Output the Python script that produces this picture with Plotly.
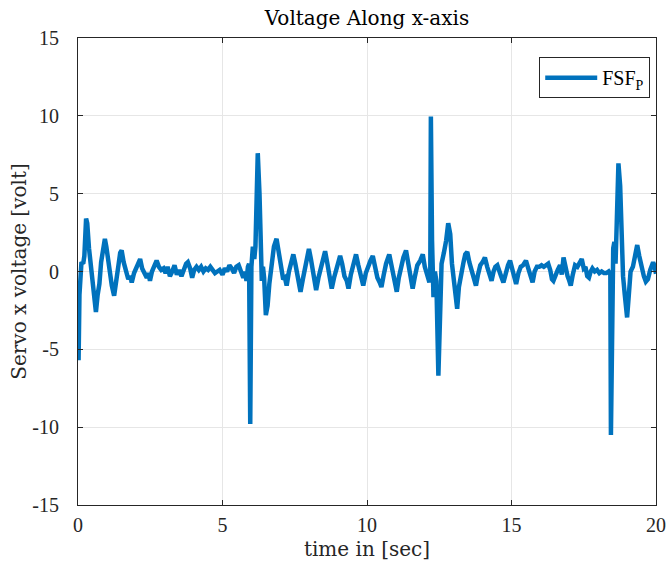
import plotly.graph_objects as go

t = [0.00, 0.02, 0.05, 0.08, 0.12, 0.18, 0.22, 0.28, 0.32, 0.38, 0.44, 0.50, 0.56, 0.62, 0.68, 0.74, 0.80, 0.86, 0.93, 0.98,
     1.04, 1.10, 1.17, 1.25, 1.32, 1.40, 1.46, 1.51, 1.58, 1.66, 1.74, 1.80, 1.86, 1.94, 2.02, 2.08, 2.15, 2.22, 2.30, 2.38,
     2.44, 2.49, 2.56, 2.64, 2.72, 2.80, 2.88, 2.96, 3.03, 3.10, 3.18, 3.26, 3.34, 3.42, 3.50, 3.58, 3.66, 3.74, 3.80, 3.88,
     3.95, 4.02, 4.10, 4.18, 4.26, 4.34, 4.42, 4.50, 4.58, 4.66, 4.74, 4.82, 4.90, 5.00, 5.08, 5.16, 5.24, 5.32, 5.40, 5.48,
     5.56, 5.64, 5.72, 5.78, 5.83, 5.88, 5.92, 5.96, 6.00, 6.05, 6.10, 6.14, 6.22, 6.28, 6.32, 6.36, 6.40, 6.44, 6.50, 6.56,
     6.62, 6.70, 6.78, 6.87, 6.94, 7.02, 7.10, 7.16, 7.22, 7.30, 7.38, 7.45, 7.52, 7.60, 7.70, 7.78, 7.86, 7.92, 7.99, 8.06,
     8.14, 8.24, 8.32, 8.40, 8.48, 8.55, 8.62, 8.70, 8.78, 8.86, 8.94, 9.00, 9.07, 9.14, 9.22, 9.30, 9.36, 9.44, 9.52, 9.62,
     9.70, 9.78, 9.87, 9.96, 10.04, 10.12, 10.20, 10.28, 10.36, 10.44, 10.50, 10.58, 10.66, 10.77, 10.86, 10.94, 11.03, 11.10, 11.18, 11.26,
     11.35, 11.42, 11.50, 11.58, 11.66, 11.74, 11.84, 11.93, 12.00, 12.08, 12.16, 12.19, 12.21, 12.25, 12.28, 12.30, 12.35, 12.40, 12.47, 12.53,
     12.58, 12.66, 12.74, 12.81, 12.88, 12.94, 13.00, 13.06, 13.12, 13.18, 13.26, 13.34, 13.40, 13.47, 13.54, 13.62, 13.70, 13.77, 13.84, 13.92,
     14.00, 14.08, 14.16, 14.24, 14.31, 14.38, 14.44, 14.51, 14.58, 14.64, 14.72, 14.80, 14.88, 14.95, 15.02, 15.10, 15.16, 15.24, 15.32, 15.40,
     15.50, 15.58, 15.66, 15.73, 15.80, 15.88, 15.96, 16.04, 16.12, 16.20, 16.27, 16.34, 16.40, 16.45, 16.52, 16.60, 16.68, 16.74, 16.80, 16.86,
     16.94, 17.00, 17.05, 17.12, 17.20, 17.28, 17.36, 17.43, 17.50, 17.56, 17.62, 17.68, 17.74, 17.80, 17.88, 17.96, 18.04, 18.12, 18.20, 18.28,
     18.36, 18.42, 18.44, 18.48, 18.52, 18.56, 18.60, 18.64, 18.70, 18.76, 18.82, 18.86, 18.92, 19.00, 19.06, 19.12, 19.20, 19.28, 19.35, 19.42,
     19.50, 19.58, 19.65, 19.72, 19.80, 19.90, 19.96, 20.00]

v = [-1.0, -5.7, -1.5, 0.3, 0.6, 0.5, 1.0, 3.4, 3.1, 1.5, 0.3, -0.9, -2.0, -2.6, -1.5, -0.8, 0.6, 1.2, 2.1, 1.6,
     0.8, -0.3, -0.9, -1.55, -0.4, 0.4, 1.2, 1.35, 0.6, 0.1, -0.5, -0.3, -0.7, -0.1, 0.3, 0.5, 0.8, 0.2, -0.2, -0.4,
     -0.1, -0.6, 0.0, 0.4, 0.7, 0.3, 0.1, 0.2, -0.1, 0.3, -0.3, 0.0, 0.4, -0.2, 0.1, -0.3, 0.2, 0.5, 0.6, 0.2,
     -0.4, 0.1, 0.3, 0.1, 0.3, 0.0, 0.2, 0.1, 0.3, 0.1, -0.1, 0.0, 0.1, -0.2, 0.2, 0.0, 0.4, 0.2, -0.1, 0.3,
     0.4, 0.0, -0.4, 0.0, -0.6, 0.3, 0.5, -9.8, 0.3, 1.6, 0.8, 1.6, 7.6, 5.0, 0.2, -0.6, 0.3, -0.4, -2.8, -2.2,
     -0.8, 0.2, 1.6, 2.1, 1.2, 0.3, -0.5, -0.4, -0.9, 0.0, 0.6, 1.1, 0.5, -0.5, -1.3, -0.5, 0.3, 0.9, 1.45, 0.8,
     0.0, -1.2, -0.4, 0.3, 0.9, 1.3, 0.6, -0.3, -1.1, -0.4, 0.2, 0.6, 1.0, 0.5, -0.3, -0.6, -1.1, -0.2, 0.4, 1.1,
     0.4, -0.3, -0.9, -0.1, 0.4, 0.7, 1.0, 0.3, -0.4, -0.7, -1.0, -0.2, 0.5, 1.1, 0.3, -0.6, -1.3, -0.4, 0.4, 0.9,
     1.35, 0.5, -0.4, -1.1, -0.3, 0.4, 0.7, 1.1, 0.3, -0.3, -0.7, 0.0, 9.95, 2.0, -0.6, -1.65, 0.0, -0.6, -6.7, -3.0,
     0.5, 1.2, 2.0, 3.1, 2.4, 0.5, -0.6, -1.8, -2.4, -1.0, 0.0, 0.6, 1.1, 1.25, 0.6, 0.0, -0.4, -0.9, -0.2, 0.4,
     0.6, 0.9, 0.3, -0.1, -0.6, 0.0, 0.3, 0.4, 0.1, -0.3, -0.7, -0.1, 0.4, 0.7, 0.2, -0.3, -0.8, -0.1, 0.3, 0.4,
     0.7, 0.2, -0.3, -0.7, 0.0, 0.3, 0.3, 0.4, 0.3, 0.4, 0.5, 0.1, -0.5, -0.6, -0.2, 0.1, 0.4, -0.2, 0.9, 0.3,
     -0.3, -0.6, -0.9, -0.2, 0.4, 0.3, 0.6, 0.8, 0.2, 0.3, -0.3, -0.4, 0.0, 0.2, 0.0, 0.1, -0.1, 0.0, -0.1, -0.1,
     0.0, -0.2, -10.5, -2.0, 1.5, 1.9, 0.5, 3.0, 6.95, 5.5, 1.0, -0.3, -1.5, -2.95, -1.5, 0.0, 0.3, 1.2, 1.7, 1.0,
     0.2, -0.3, -0.65, -0.5, 0.1, 0.6, 0.3, -0.15]

x_ticks = [0, 5, 10, 15, 20]
x_tick_labels = ["0", "5", "10", "15", "20"]
y_ticks = [-15, -10, -5, 0, 5, 10, 15]
y_tick_labels = ["-15", "-10", "-5", "0", "5", "10", "15"]

TICKFONT = "Liberation Serif, serif"
LABELFONT = "DejaVu Serif, serif"
AX = "#262626"
GRID = "#e6e6e6"

fig = go.Figure()
fig.add_trace(go.Scatter(
    x=t, y=v, mode="lines", name="FSF<sub>P</sub>",
    line=dict(color="#0072BD", width=4.5),
))

axis_common = dict(
    showline=True, linecolor=AX, linewidth=1, mirror="ticks",
    ticks="inside", ticklen=5, tickcolor=AX, tickwidth=1,
    showgrid=True, gridcolor=GRID, gridwidth=1, zeroline=False,
    tickfont=dict(family=TICKFONT, size=20, color=AX),
    automargin=False,
)

fig.update_layout(
    width=668, height=566,
    margin=dict(l=78, r=12, t=38, b=61),
    paper_bgcolor="white", plot_bgcolor="white",
    title=dict(text="Voltage Along x-axis", x=367 / 668, xanchor="center", y=1 - 18 / 566, yanchor="middle",
               font=dict(family=LABELFONT, size=20, color="black")),
    xaxis=dict(range=[0, 20], tickvals=x_ticks, ticktext=x_tick_labels, ticklabelstandoff=2,
               title=dict(text="time in [sec]", font=dict(family=LABELFONT, size=20, color=AX), standoff=6),
               **axis_common),
    yaxis=dict(range=[-15, 15], tickvals=y_ticks, ticktext=y_tick_labels, ticklabelstandoff=14,
               title=dict(text="Servo x voltage [volt]", font=dict(family=LABELFONT, size=20, color=AX), standoff=0),
               **axis_common),
    legend=dict(x=0.99, y=0.959, xanchor="right", yanchor="top",
                bgcolor="white", bordercolor=AX, borderwidth=1, itemwidth=52,
                font=dict(family=TICKFONT, size=20, color="black")),
    showlegend=True,
)

fig.write_html("out.html")
